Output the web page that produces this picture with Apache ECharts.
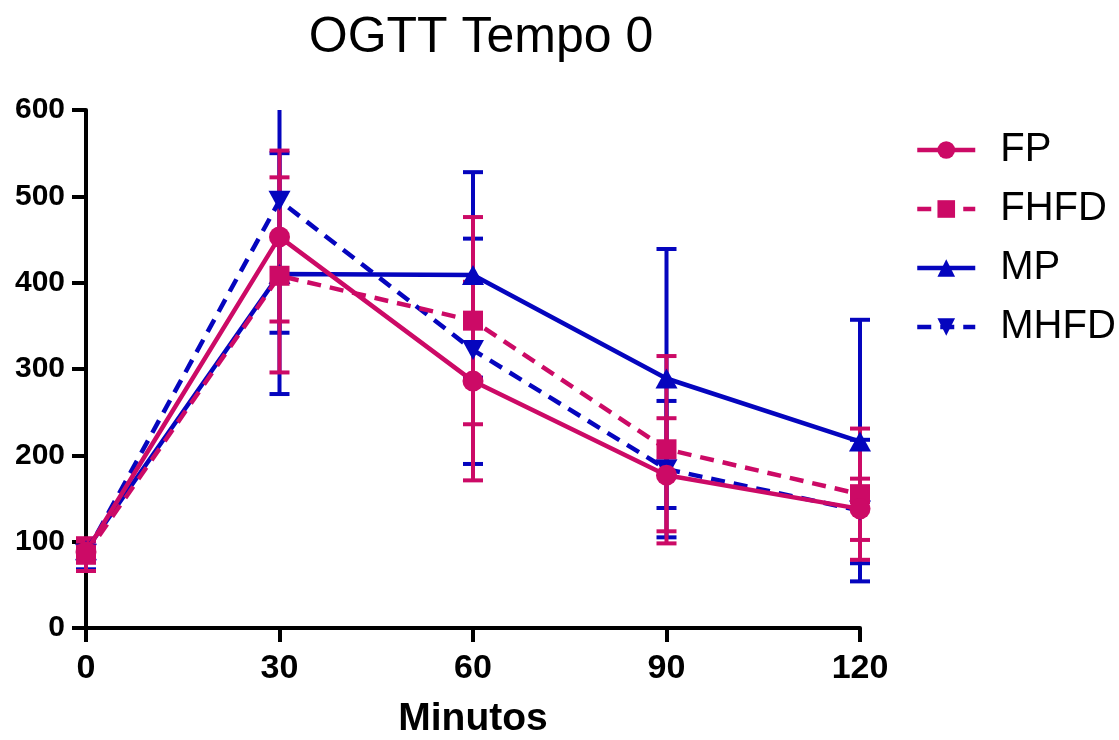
<!DOCTYPE html>
<html><head><meta charset="utf-8">
<script src="https://cdn.jsdelivr.net/npm/echarts@6/dist/echarts.min.js"></script>
<style>html,body{margin:0;padding:0;background:#fff}#c{width:1119px;height:740px}</style>
</head><body><div id="c"></div>
<script>
const minutes = [0, 30, 60, 90, 120];
const xTicks = ['0', '30', '60', '90', '120'];
const yTicks = [0, 100, 200, 300, 400, 500, 600];
const yMax = 600;

const fpMean = [88, 453, 286, 177, 138];
const fpLow  = [76, 355, 171, 112, 102];
const fpHigh = [100, 553, 401, 243, 173];

const fhfdMean = [85, 408, 356, 207, 155];
const fhfdLow  = [66, 296, 236, 98, 79];
const fhfdHigh = [104, 522, 476, 315, 231];

const mpMean = [90, 410, 409, 289, 216];
const mpLow  = [78, 271, 290, 139, 75];
const mpHigh = [102, 550, 528, 439, 357];

const mhfdMean = [86, 495, 322, 184, 136];
const mhfdLow  = [68, 342, 190, 105, 54];
const mhfdHigh = [103, 648, 451, 263, 218];

const MAG = '#CC0A66';
const BLU = '#0505BE';

function errData(lo, hi) { return minutes.map((m, i) => [m, lo[i], hi[i]]); }
function lineData(mean) { return minutes.map((m, i) => [m, mean[i]]); }

function errRender(color) {
  return function (params, api) {
    const x = api.value(0), lo = api.value(1), hi = api.value(2);
    const clipped = hi > yMax;
    const p1 = api.coord([x, clipped ? yMax : hi]), p2 = api.coord([x, lo]);
    const w = 10;
    const st = { stroke: color, lineWidth: 4 };
    const ch = [
      { type: 'line', shape: { x1: p1[0], y1: p1[1], x2: p2[0], y2: p2[1] }, style: st },
      { type: 'line', shape: { x1: p2[0] - w, y1: p2[1], x2: p2[0] + w, y2: p2[1] }, style: st }
    ];
    if (!clipped) ch.push({ type: 'line', shape: { x1: p1[0] - w, y1: p1[1], x2: p1[0] + w, y2: p1[1] }, style: st });
    return { type: 'group', children: ch };
  };
}

function errSeries(name, color, lo, hi) {
  return { name: name, type: 'custom', renderItem: errRender(color), data: errData(lo, hi),
    clip: false, silent: true, encode: { x: 0, y: [1, 2] }, z: 2 };
}
function lineSeries(name, color, mean, symbol, dashed, size) {
  return { name: name, type: 'line', data: lineData(mean), symbol: symbol, symbolSize: size,
    clip: false,
    lineStyle: { color: color, width: 4.5, type: dashed ? [14, 9] : 'solid' },
    itemStyle: { color: color }, z: 3, animation: false };
}

const chart = echarts.init(document.getElementById('c'));
chart.setOption({
  animation: false,
  title: { text: 'OGTT Tempo 0', left: 476, top: 8, textAlign: 'center',
    textStyle: { fontFamily: 'Liberation Sans', fontSize: 50, fontWeight: 'normal', color: '#000' } },
  grid: { left: 86, right: 259, top: 110, bottom: 112, containLabel: false, outerBoundsMode: 'none' },
  legend: {
    orient: 'vertical', left: 910, top: 125, itemGap: 19, itemWidth: 58, itemHeight: 22,
    data: ['FP', 'FHFD', 'MP', 'MHFD'],
    lineStyle: { width: 4.5 },
    textStyle: { fontFamily: 'Liberation Sans', fontSize: 40, color: '#000', padding: [0, 0, 0, 20] }
  },
  xAxis: {
    type: 'value', min: 0, max: 120, interval: 30,
    name: 'Minutos', nameLocation: 'middle', nameGap: 72,
    nameTextStyle: { fontFamily: 'Liberation Sans', fontSize: 39, fontWeight: 'bold', color: '#000' },
    axisLine: { show: true, onZero: false, lineStyle: { color: '#000', width: 4 } },
    axisTick: { show: true, length: 14, lineStyle: { color: '#000', width: 4 } },
    axisLabel: { margin: 24, fontFamily: 'Liberation Sans', fontSize: 34, fontWeight: 'bold', color: '#000',
      formatter: v => xTicks[minutes.indexOf(v)] || '' },
    splitLine: { show: false }
  },
  yAxis: {
    type: 'value', min: 0, max: yMax, interval: 100,
    axisLine: { show: true, onZero: false, lineStyle: { color: '#000', width: 4 } },
    axisTick: { show: true, length: 14, lineStyle: { color: '#000', width: 4 } },
    axisLabel: { margin: 21, fontFamily: 'Liberation Sans', fontSize: 30, fontWeight: 'bold', color: '#000',
      formatter: v => yTicks.includes(v) ? String(v) : '' },
    splitLine: { show: false }
  },
  series: [
    errSeries('MHFD err', BLU, mhfdLow, mhfdHigh),
    errSeries('MP err', BLU, mpLow, mpHigh),
    errSeries('FHFD err', MAG, fhfdLow, fhfdHigh),
    errSeries('FP err', MAG, fpLow, fpHigh),
    lineSeries('MHFD', BLU, mhfdMean, 'path://M0,0 L10,0 L5,9 Z', true, [22, 20]),
    lineSeries('MP', BLU, mpMean, 'triangle', false, [22, 20]),
    lineSeries('FHFD', MAG, fhfdMean, 'rect', true, 20),
    lineSeries('FP', MAG, fpMean, 'circle', false, 21)
  ]
});
</script></body></html>
